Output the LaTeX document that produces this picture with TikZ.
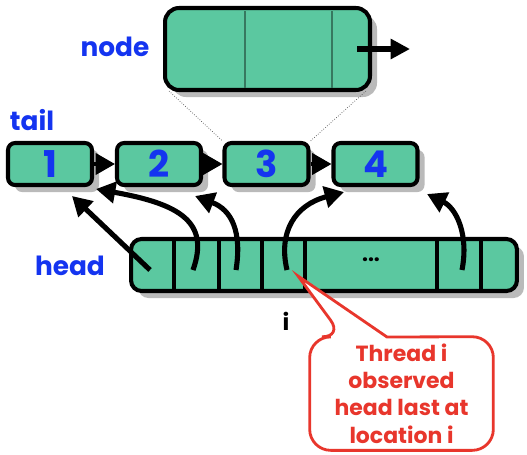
\documentclass[tikz,border=0pt]{standalone}
\usepackage{fontspec}
\setmainfont{Poppins}
\usetikzlibrary{arrows.meta,shadows}
\definecolor{cellgreen}{HTML}{5BC8A0}
\definecolor{labelblue}{HTML}{1434F0}
\definecolor{notered}{HTML}{E8362C}
\tikzset{
  cell/.style={draw, line width=2.3pt, fill=cellgreen, rounded corners=4pt,
    drop shadow={shadow xshift=4pt, shadow yshift=-4pt, fill=black!27, opacity=1}},
  label/.style={text=labelblue, font=\bfseries\fontsize{15}{18}\selectfont},
  digit/.style={text=labelblue, font=\bfseries\fontsize{21}{24}\selectfont},
  link/.style={line width=2pt, -{Triangle[length=11pt, width=12pt]}},
  grab/.style={line width=2.9pt, -{Triangle[length=11pt, width=12pt]}},
  note/.style={text=notered, font=\bfseries\fontsize{12.5}{15.5}\selectfont, align=center}
}
\begin{document}
\begin{tikzpicture}[x=0.02cm, y=-0.02cm]
  \useasboundingbox (0,0) rectangle (527,454);

  \node[cell, rounded corners=8pt, minimum width=4.1cm, minimum height=1.64cm] (big) at (267.5,49) {};
  \draw[cellgreen!60!black, line width=0.6pt] (245,11) -- (245,88) (332,11) -- (332,88);
  \draw[line width=3.6pt, -{Triangle[length=11pt, width=11pt]}] (357,49) -- (410,49);
  \node[label] (nodelbl) at (115,47) {node};

  \node[label] (taillbl) at (32,120) {tail};
  \node[cell, minimum width=1.68cm, minimum height=0.84cm, digit] (t1) at (50,164) {1};
  \node[cell, minimum width=1.68cm, minimum height=0.84cm, digit] (t2) at (159,164) {2};
  \node[cell, minimum width=1.68cm, minimum height=0.84cm, digit] (t3) at (266.5,164) {3};
  \node[cell, minimum width=1.68cm, minimum height=0.84cm, digit] (t4) at (375.5,164) {4};
  \begin{scope}[link]
    \draw (t1) to (t2);
    \draw (t2) to (t3);
    \draw (t3) to (t4);
  \end{scope}
  \draw[densely dotted, line width=0.4pt, black!70] (big.south west) ++(6,-1) -- (t3.north west);
  \draw[densely dotted, line width=0.4pt, black!70] (big.south east) ++(-6,-1) -- (t3.north east);

  \node[label] (headlbl) at (70,266) {head};
  \node[cell, rounded corners=6pt, minimum width=7.72cm, minimum height=1.04cm] (head) at (324,265) {};
  \foreach \x in {174,219,262,305,437,481}
    \draw[line width=1.8pt] (\x,240) -- (\x,290);
  \node[font=\bfseries\fontsize{12}{14}\selectfont] (dots) at (371,260) {...};
  \node[font=\bfseries\fontsize{13}{15}\selectfont] (ilbl) at (286,321) {i};

  \coordinate (s1) at (150,270);
  \coordinate (s2) at (193,270);
  \coordinate (s3) at (236,270);
  \coordinate (s4) at (287,270);
  \coordinate (s5) at (462,270);
  \coordinate (e1) at (72,196);
  \coordinate (e2) at (96,189);
  \coordinate (e3) at (195,196);
  \coordinate (e4) at (344,192);
  \coordinate (e5) at (427,194);
  \begin{scope}[grab]
    \draw (s1) to (e1);
    \draw (s2) .. controls (210,222) and (180,204) .. (e2);
    \draw (s3) .. controls (242,232) and (232,210) .. (e3);
    \draw (s4) .. controls (278,232) and (295,205) .. (e4);
    \draw (s5) .. controls (469,234) and (456,208) .. (e5);
  \end{scope}

  \node[minimum width=3.66cm, minimum height=2.26cm] (frame) at (401.5,393.5) {};
  \coordinate (ptr) at (298,276);
  \draw[notered, fill=white, line width=1.6pt] (343,337) [sharp corners] -- (ptr) -- (387,337)
    [rounded corners=12pt] -- (frame.north east) -- (frame.south east)
    -- (frame.south west) -- (frame.north west) -- cycle;
  \node[note] (callout) at (frame.center) {Thread i\\observed\\head last at\\location i};
\end{tikzpicture}
\end{document}
